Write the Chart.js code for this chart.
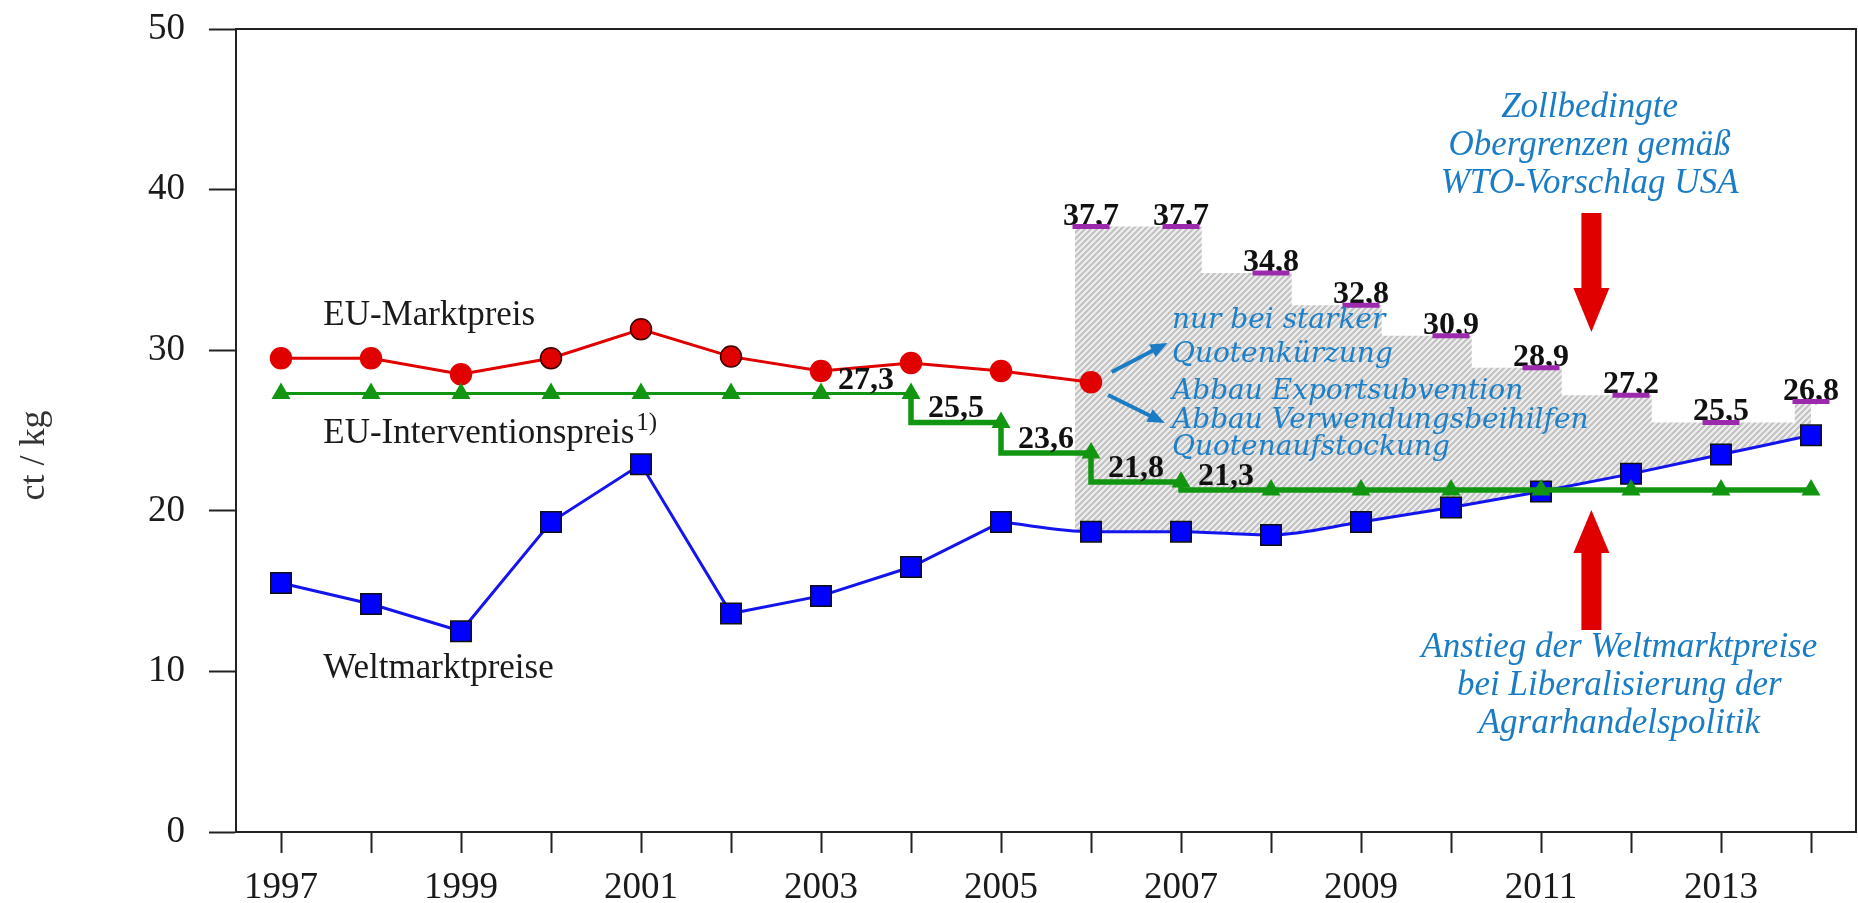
<!DOCTYPE html>
<html>
<head>
<meta charset="utf-8">
<script src="https://cdn.jsdelivr.net/npm/chart.js@4/dist/chart.umd.min.js"></script>
<style>
  html, body { margin: 0; padding: 0; background: #fff; overflow: hidden; }
  #wrap { width: 1858px; height: 903px; }
</style>
</head>
<body>
<div id="wrap"><canvas id="chart"></canvas></div>
<script>
// Years on the x axis
const years = [1997, 1998, 1999, 2000, 2001, 2002, 2003, 2004, 2005,
               2006, 2007, 2008, 2009, 2010, 2011, 2012, 2013, 2014];
// EU-Marktpreis (1997-2006), ct/kg
const marketPrice = [29.5, 29.5, 28.5, 29.5, 31.3, 29.6, 28.7, 29.2, 28.7, 28.0];
// EU-Interventionspreis, ct/kg
const interventionPrice = [27.3, 27.3, 27.3, 27.3, 27.3, 27.3, 27.3, 27.3, 25.5,
                           23.6, 21.8, 21.3, 21.3, 21.3, 21.3, 21.3, 21.3, 21.3];
// Weltmarktpreise, ct/kg
const worldPrice = [15.5, 14.2, 12.5, 19.3, 22.9, 13.6, 14.7, 16.5, 19.3,
                    18.7, 18.7, 18.5, 19.3, 20.2, 21.2, 22.3, 23.5, 24.7];
// Zollbedingte Obergrenzen (WTO-Vorschlag USA)
const ceilingYears = [2006, 2007, 2008, 2009, 2010, 2011, 2012, 2013, 2014];
const ceilingValues = [37.7, 37.7, 34.8, 32.8, 30.9, 28.9, 27.2, 25.5, 26.8];
// y axis ticks
const yTicks = [0, 10, 20, 30, 40, 50];
const projectionStart = 2005;

const FONT = 'Liberation Serif';
const BLUE_TXT = '#1e80c8';
const fmt = v => v.toFixed(1).replace('.', ',');

// hatched area under the tariff ceilings: steps sit at the ends of the dashes
const DASH_L = 0.18, DASH_R = 0.23, X_MIN = 1996.5, X_MAX = 2014.5;
const hatchPoints = [{ x: ceilingYears[0] - DASH_L, y: ceilingValues[0] }];
for (let i = 1; i < ceilingYears.length; i++) {
  const down = ceilingValues[i] < ceilingValues[i - 1];
  hatchPoints.push({ x: down ? ceilingYears[i - 1] + DASH_R : ceilingYears[i] - DASH_L, y: ceilingValues[i] });
}
hatchPoints.push({ x: X_MAX, y: ceilingValues[ceilingValues.length - 1] });

const pts = vals => vals.map((v, i) => ({ x: years[i], y: v }));
const worldObserved = pts(worldPrice).filter(p => p.x <= projectionStart);
const worldProjected = pts(worldPrice).filter(p => p.x >= projectionStart);

const canvas = document.getElementById('chart');
const mainCtx = canvas.getContext('2d');
function makeHatch() {
  const c = document.createElement('canvas');
  c.width = 6; c.height = 6;
  const g = c.getContext('2d');
  g.fillStyle = '#efefef';
  g.fillRect(0, 0, 6, 6);
  g.strokeStyle = '#c2c2c2';
  g.lineWidth = 2.2;
  g.beginPath();
  g.moveTo(-1, 7); g.lineTo(7, -1);
  g.moveTo(-4, 4); g.lineTo(4, -4);
  g.moveTo(2, 10); g.lineTo(10, 2);
  g.stroke();
  return mainCtx.createPattern(c, 'repeat');
}

function arrowLine(ctx, x1, y1, x2, y2, color) {
  const a = Math.atan2(y2 - y1, x2 - x1), L = 17, W = 7;
  ctx.strokeStyle = color; ctx.fillStyle = color; ctx.lineWidth = 4;
  ctx.beginPath();
  ctx.moveTo(x1, y1);
  ctx.lineTo(x2 - Math.cos(a) * L * 0.8, y2 - Math.sin(a) * L * 0.8);
  ctx.stroke();
  ctx.beginPath();
  ctx.moveTo(x2, y2);
  ctx.lineTo(x2 - Math.cos(a) * L - Math.sin(a) * W, y2 - Math.sin(a) * L + Math.cos(a) * W);
  ctx.lineTo(x2 - Math.cos(a) * L + Math.sin(a) * W, y2 - Math.sin(a) * L - Math.cos(a) * W);
  ctx.closePath();
  ctx.fill();
}

function blockArrow(ctx, xc, yTail, yBase, yTip, shaft, head) {
  ctx.fillStyle = '#e00000';
  ctx.beginPath();
  ctx.moveTo(xc - shaft / 2, yTail);
  ctx.lineTo(xc - shaft / 2, yBase);
  ctx.lineTo(xc - head / 2, yBase);
  ctx.lineTo(xc, yTip);
  ctx.lineTo(xc + head / 2, yBase);
  ctx.lineTo(xc + shaft / 2, yBase);
  ctx.lineTo(xc + shaft / 2, yTail);
  ctx.closePath();
  ctx.fill();
}

const overlay = {
  id: 'overlay',
  beforeDatasetsDraw(chart) {
    const { ctx, scales: { x, y } } = chart;
    ctx.save();
    // ceiling labels, sitting on the purple dashes
    ctx.font = `bold 32px "${FONT}"`;
    ctx.fillStyle = '#111';
    ctx.textAlign = 'center';
    ctx.textBaseline = 'alphabetic';
    ceilingYears.forEach((yr, i) =>
      ctx.fillText(fmt(ceilingValues[i]), x.getPixelForValue(yr), y.getPixelForValue(ceilingValues[i]) - 2));
    ctx.restore();
  },
  afterDatasetsDraw(chart) {
    const { ctx, chartArea: a, scales: { x, y } } = chart;
    const px = v => x.getPixelForValue(v), py = v => y.getPixelForValue(v);
    ctx.save();

    // frame
    ctx.strokeStyle = '#222'; ctx.lineWidth = 2;
    ctx.strokeRect(a.left, a.top, a.right - a.left, a.bottom - a.top);

    // y axis title
    ctx.save();
    ctx.translate(44, (py(yTicks[0]) + py(yTicks[yTicks.length - 1])) / 2 + 25);
    ctx.rotate(-Math.PI / 2);
    ctx.font = `36px "${FONT}"`;
    ctx.fillStyle = '#333';
    ctx.textAlign = 'center';
    ctx.textBaseline = 'alphabetic';
    ctx.fillText('ct / kg', 0, 0);
    ctx.restore();

    // step labels of the intervention price (one per level, on the segment next to the step)
    ctx.font = `bold 32px "${FONT}"`;
    ctx.fillStyle = '#111';
    ctx.textAlign = 'center';
    ctx.textBaseline = 'alphabetic';
    for (let i = 0; i < years.length - 2; i++) {
      const v = interventionPrice[i + 1];
      const isNew = v !== interventionPrice[i];
      const beforeStep = interventionPrice[i + 2] !== v;
      if (isNew || beforeStep) ctx.fillText(fmt(v), px(years[i] + 0.5), py(v) - 5);
    }

    // series labels
    ctx.font = `35px "${FONT}"`;
    ctx.fillStyle = '#1a1a1a';
    ctx.textAlign = 'left';
    ctx.fillText('EU-Marktpreis', px(1997.47), py(31.55));
    ctx.fillText('EU-Interventionspreis', px(1997.47), py(24.2));
    const w = ctx.measureText('EU-Interventionspreis').width;
    ctx.font = `25px "${FONT}"`;
    ctx.fillText('1)', px(1997.47) + w + 2, py(24.2) - 13);
    ctx.font = `35px "${FONT}"`;
    ctx.fillText('Weltmarktpreise', px(1997.47), py(9.6));

    // left annotation block
    ctx.fillStyle = BLUE_TXT;
    ctx.font = `italic 28px "DejaVu Serif"`;
    const leftLines = [['nur bei starker', 31.38], ['Quotenkürzung', 29.27],
      ['Abbau Exportsubvention', 26.96], ['Abbau Verwendungsbeihilfen', 25.16], ['Quotenaufstockung', 23.47]];
    leftLines.forEach(([t, v]) => ctx.fillText(t, px(2006.9), py(v)));
    arrowLine(ctx, px(2006.23), py(28.64), px(2006.85), py(30.45), '#1a7cc4');
    arrowLine(ctx, px(2006.19), py(27.21), px(2006.82), py(25.47), '#1a7cc4');

    // right annotation blocks
    ctx.font = `italic 35px "${FONT}"`;
    ctx.textAlign = 'center';
    [['Zollbedingte', 44.52], ['Obergrenzen gemäß', 42.15], ['WTO-Vorschlag USA', 39.79]]
      .forEach(([t, v]) => ctx.fillText(t, px(2011.54), py(v)));
    [['Anstieg der Weltmarktpreise', 10.9], ['bei Liberalisierung der', 8.53], ['Agrarhandelspolitik', 6.16]]
      .forEach(([t, v]) => ctx.fillText(t, px(2011.87), py(v)));

    // red block arrows
    blockArrow(ctx, px(2011.56), py(38.54), py(33.87), py(31.13), 20, 36);
    blockArrow(ctx, px(2011.56), py(12.58), py(17.37), py(20.05), 20, 36);

    ctx.restore();
  }
};

const tickFont = { family: FONT, size: 37 };

new Chart(canvas, {
  type: 'line',
  data: {
    datasets: [
      {
        label: 'EU-Interventionspreis',
        data: pts(interventionPrice),
        stepped: 'after',
        borderColor: '#129612',
        backgroundColor: '#129612',
        borderWidth: 3,
        segment: { borderWidth: c => years[c.p0DataIndex] >= 2004 ? 5.5 : 3 },
        pointStyle: 'triangle',
        pointRadius: 11,
        pointBorderWidth: 0,
        fill: false
      },
      {
        label: 'EU-Marktpreis',
        data: pts(marketPrice),
        borderColor: '#e00000',
        backgroundColor: '#e00000',
        borderWidth: 3,
        pointRadius: 10.5,
        pointBorderWidth: 1.5,
        pointBorderColor: marketPrice.map((v, i) => (years[i] >= 2000 && years[i] <= 2002) ? '#3a0000' : '#e00000'),
        fill: false
      },
      {
        label: 'Weltmarktpreise',
        data: worldObserved,
        borderColor: '#1414ee',
        backgroundColor: '#0000ff',
        borderWidth: 3,
        pointStyle: 'rect',
        pointRadius: 14.5,
        pointBorderColor: '#111',
        pointBorderWidth: 1.5,
        fill: false
      },
      {
        label: 'Weltmarktpreise (Liberalisierung)',
        data: worldProjected,
        borderColor: '#1414ee',
        backgroundColor: '#0000ff',
        borderWidth: 3,
        cubicInterpolationMode: 'monotone',
        pointStyle: 'rect',
        pointRadius: 14.5,
        pointBorderColor: '#111',
        pointBorderWidth: 1.5,
        fill: false
      },
      {
        label: 'Obergrenzen',
        data: ceilingYears.map((yr, i) => ({ x: yr, y: ceilingValues[i] })),
        showLine: false,
        pointStyle: 'line',
        pointRadius: 18.5,
        pointBorderWidth: 5,
        pointBorderColor: '#9b2aad',
        borderColor: '#9b2aad',
        fill: false
      },
      {
        label: 'Spanne',
        data: hatchPoints,
        stepped: true,
        borderWidth: 0,
        borderColor: 'rgba(0,0,0,0)',
        pointRadius: 0,
        backgroundColor: makeHatch(),
        fill: 3
      }
    ]
  },
  options: {
    responsive: true,
    maintainAspectRatio: false,
    animation: false,
    events: [],
    layout: { autoPadding: false, padding: { top: 29, right: 2, left: 0, bottom: 0 } },
    plugins: {
      legend: { display: false },
      tooltip: { enabled: false },
      filler: { propagate: false }
    },
    scales: {
      x: {
        type: 'linear',
        min: X_MIN,
        max: X_MAX,
        afterBuildTicks: s => { s.ticks = years.map(v => ({ value: v })); },
        afterFit: s => { s.height = 71; s.paddingLeft = 0; s.paddingRight = 0; },
        grid: { drawOnChartArea: false, drawTicks: true, tickLength: 21, tickColor: '#222', tickWidth: 2 },
        border: { display: true, color: '#222', width: 2 },
        ticks: {
          autoSkip: false,
          maxRotation: 0,
          padding: 13,
          color: '#1a1a1a',
          font: tickFont,
          callback: v => (v % 2 === 1 ? String(v) : '')
        }
      },
      y: {
        min: yTicks[0],
        max: yTicks[yTicks.length - 1],
        afterBuildTicks: s => { s.ticks = yTicks.map(v => ({ value: v })); },
        afterFit: s => { s.width = 236; s.paddingTop = 0; s.paddingBottom = 0; },
        grid: { drawOnChartArea: false, drawTicks: true, tickLength: 27, tickColor: '#222', tickWidth: 2 },
        border: { display: true, color: '#222', width: 2 },
        ticks: { padding: 24, color: '#1a1a1a', font: tickFont, callback: v => String(v) }
      }
    }
  },
  plugins: [overlay]
});
</script>
</body>
</html>
